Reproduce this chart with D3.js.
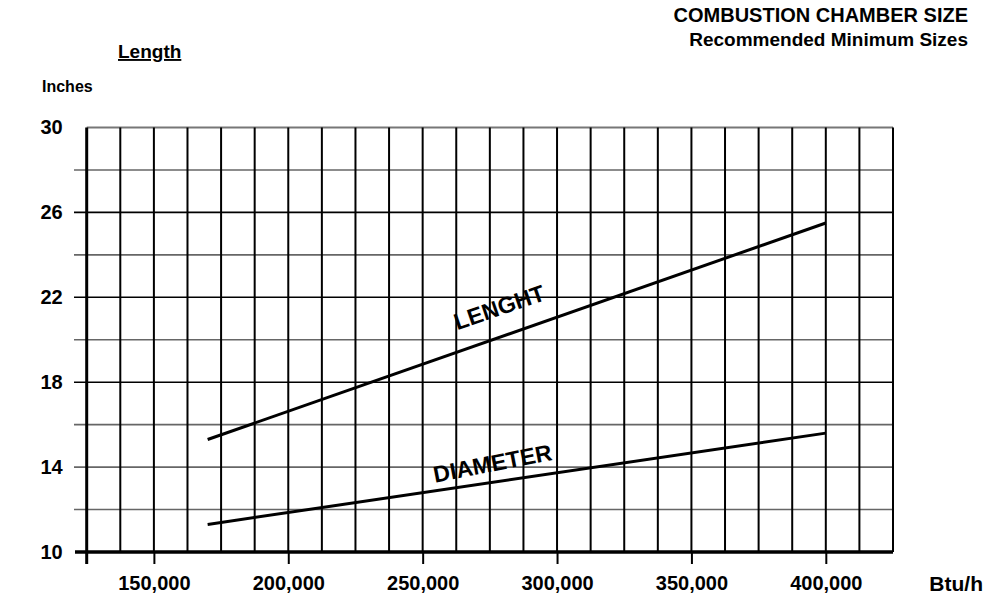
<!DOCTYPE html>
<html>
<head>
<meta charset="utf-8">
<script src="https://cdn.jsdelivr.net/npm/d3@7.9.0/dist/d3.min.js"></script>
<style>
  body { margin: 0; background: #fff; }
  svg { display: block; font-family: "Liberation Sans", Arial, sans-serif; font-weight: bold; }
</style>
</head>
<body>
<div id="chart"></div>
<script>
// values
const btuRange = [170000, 400000];
const lengthInches = [15.3, 25.5];
const diameterInches = [11.3, 15.6];
const xTicks = [150000, 200000, 250000, 300000, 350000, 400000];
const yTicks = [10, 14, 18, 22, 26, 30];

const width = 989;
const height = 594;

const svg = d3.select('#chart')
  .append('svg')
  .attr('width', width)
  .attr('height', height);

const xScale = d3.scaleLinear().domain([125000, 425000]).range([86.7, 893]);
const yScale = d3.scaleLinear().domain([10, 30]).range([552, 127.5]);

// horizontal grid (every 2 inches)
const hGrid = d3.range(12, 30, 2);
svg.append('g')
  .selectAll('line')
  .data(hGrid)
  .join('line')
  .attr('x1', 74)
  .attr('x2', xScale(425000))
  .attr('y1', d => yScale(d))
  .attr('y2', d => yScale(d))
  .attr('stroke', d => (d % 4 === 2 && d !== 14) ? '#000' : '#666')
  .attr('stroke-width', 1.6);

// top border
svg.append('line')
  .attr('x1', xScale(125000)).attr('x2', xScale(425000))
  .attr('y1', yScale(30)).attr('y2', yScale(30))
  .attr('stroke', '#777').attr('stroke-width', 2);

// vertical grid (every 12,500 Btu/h)
const vGrid = d3.range(137500, 425001, 12500);
svg.append('g')
  .selectAll('line')
  .data(vGrid)
  .join('line')
  .attr('x1', d => xScale(d))
  .attr('x2', d => xScale(d))
  .attr('y1', yScale(30))
  .attr('y2', yScale(10))
  .attr('stroke', '#000')
  .attr('stroke-width', 2);

// x axis
const xAxis = d3.axisBottom(xScale)
  .tickValues(xTicks)
  .tickSize(12)
  .tickPadding(12)
  .tickFormat(d3.format(','));

const gx = svg.append('g')
  .attr('transform', `translate(0, ${yScale(10)})`)
  .call(xAxis);
gx.select('.domain').remove();
gx.selectAll('.tick line').attr('stroke', '#000').attr('stroke-width', 2);
gx.selectAll('.tick text')
  .attr('font-size', 20).attr('font-weight', 'bold').attr('fill', '#000')
  .attr('font-family', '"Liberation Sans", Arial, sans-serif');

svg.append('line')
  .attr('x1', 75).attr('x2', xScale(425000))
  .attr('y1', yScale(10)).attr('y2', yScale(10))
  .attr('stroke', '#000').attr('stroke-width', 3.5);

// y axis
const yAxis = d3.axisLeft(yScale)
  .tickValues(yTicks)
  .tickSize(0)
  .tickPadding(24);

const gy = svg.append('g')
  .attr('transform', `translate(${xScale(125000)}, 0)`)
  .call(yAxis);
gy.select('.domain').remove();
gy.selectAll('.tick text')
  .attr('font-size', 20).attr('font-weight', 'bold').attr('fill', '#000')
  .attr('font-family', '"Liberation Sans", Arial, sans-serif');

svg.append('line')
  .attr('x1', xScale(125000)).attr('x2', xScale(125000))
  .attr('y1', yScale(30)).attr('y2', yScale(10) + 12)
  .attr('stroke', '#000').attr('stroke-width', 3);

// the two size lines
const series = [
  { name: 'LENGHT', values: lengthInches, at: 278500, off: -30, rot: -19, size: 23 },
  { name: 'DIAMETER', values: diameterInches, at: 276000, off: -19, rot: -11, size: 23 }
];

const line = d3.line()
  .x(d => xScale(d[0]))
  .y(d => yScale(d[1]));

svg.append('g')
  .selectAll('path')
  .data(series)
  .join('path')
  .attr('d', s => line(btuRange.map((b, i) => [b, s.values[i]])))
  .attr('fill', 'none')
  .attr('stroke', '#000')
  .attr('stroke-width', 3);

const lineAt = (s, x) => {
  const t = (x - btuRange[0]) / (btuRange[1] - btuRange[0]);
  return s.values[0] + t * (s.values[1] - s.values[0]);
};

svg.append('g')
  .selectAll('text')
  .data(series)
  .join('text')
  .attr('transform', s => `translate(${xScale(s.at)}, ${yScale(lineAt(s, s.at)) + s.off}) rotate(${s.rot})`)
  .attr('text-anchor', 'middle')
  .attr('dominant-baseline', 'central')
  .attr('font-size', s => s.size)
  .text(s => s.name);

// titles
svg.append('text')
  .attr('x', 968).attr('y', 22)
  .attr('text-anchor', 'end')
  .attr('font-size', 20)
  .text('COMBUSTION CHAMBER SIZE');

svg.append('text')
  .attr('x', 968).attr('y', 46)
  .attr('text-anchor', 'end')
  .attr('font-size', 19)
  .text('Recommended Minimum Sizes');

svg.append('text')
  .attr('x', 118).attr('y', 58)
  .attr('font-size', 19)
  .attr('text-decoration', 'underline')
  .text('Length');

svg.append('text')
  .attr('x', 42).attr('y', 92)
  .attr('font-size', 16)
  .text('Inches');

svg.append('text')
  .attr('x', 983).attr('y', 591)
  .attr('text-anchor', 'end')
  .attr('font-size', 21)
  .text('Btu/h');
</script>
</body>
</html>
